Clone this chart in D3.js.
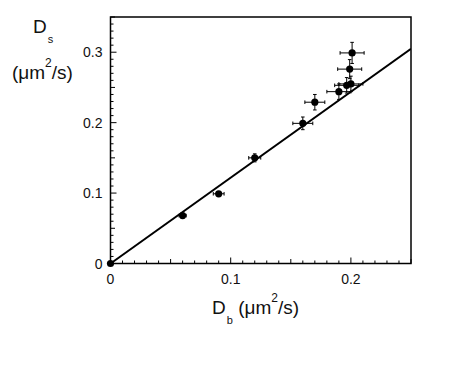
<!DOCTYPE html>
<html lang="en">
<head>
  <meta charset="UTF-8">
  <title>Ds vs Db</title>
  <script src="https://d3js.org/d3.v7.min.js"></script>
  <style>
    body { margin: 0; background: #fff; }
    svg text { font-family: "Liberation Sans", Arial, sans-serif; fill: #111; }
  </style>
</head>
<body>
  <svg id="chart"></svg>
  <script>
    // values
    const dbValues = [0, 0.060, 0.090, 0.120, 0.160, 0.170, 0.190, 0.1965, 0.200, 0.199, 0.201];
    const dsValues = [0, 0.068, 0.099, 0.150, 0.199, 0.229, 0.244, 0.253, 0.255, 0.276, 0.299];
    const dbErr = [0, 0.003, 0.0045, 0.005, 0.0083, 0.0083, 0.010, 0.010, 0.010, 0.010, 0.010];
    const dsErr = [0, 0.003, 0.003, 0.0057, 0.009, 0.011, 0.011, 0.011, 0.011, 0.0135, 0.015];
    const fitSlope = 1.22;
    const xTickLabels = ["0", "0.1", "0.2"];
    const yTickLabels = ["0", "0.1", "0.2", "0.3"];

    const width = 450, height = 377;
    const margin = { top: 17, right: 39, bottom: 113.5, left: 110.5 };

    const svg = d3.select("#chart")
      .attr("width", width)
      .attr("height", height);

    const x = d3.scaleLinear()
      .domain([0, 0.25])
      .range([margin.left, width - margin.right]);

    const y = d3.scaleLinear()
      .domain([0, 0.35])
      .range([height - margin.bottom, margin.top]);

    const data = dbValues.map((d, i) => ({ x: d, y: dsValues[i], ex: dbErr[i], ey: dsErr[i] }));

    // ticks: minor every 0.01, medium at 0.05, major at 0.1
    const x0 = x.range()[0], x1 = x.range()[1];
    const y0 = y.range()[0], y1 = y.range()[1];
    const tickLen = v => {
      const k = Math.round(v * 100);
      return k % 10 === 0 ? 6 : (k % 5 === 0 ? 4.5 : 3);
    };

    const ticks = svg.append("g").attr("stroke", "#000").attr("stroke-width", 1);
    d3.range(0, 26).map(k => k / 100).forEach(v => {
      ticks.append("line")
        .attr("x1", x(v)).attr("x2", x(v))
        .attr("y1", y0).attr("y2", y0 - tickLen(v));
    });
    d3.range(0, 36).map(k => k / 100).forEach(v => {
      ticks.append("line")
        .attr("x1", x0).attr("x2", x0 + tickLen(v))
        .attr("y1", y(v)).attr("y2", y(v));
    });

    // frame
    svg.append("rect")
      .attr("x", x0).attr("y", y1)
      .attr("width", x1 - x0).attr("height", y0 - y1)
      .attr("fill", "none").attr("stroke", "#000").attr("stroke-width", 1.5);

    // tick labels
    svg.selectAll(".xlab")
      .data(xTickLabels)
      .enter().append("text")
      .attr("x", d => x(+d))
      .attr("y", y0 + 20)
      .attr("text-anchor", "middle")
      .attr("font-size", 14)
      .text(d => d);

    svg.selectAll(".ylab")
      .data(yTickLabels)
      .enter().append("text")
      .attr("x", x0 - 8)
      .attr("y", d => y(+d) + 5)
      .attr("text-anchor", "end")
      .attr("font-size", 14)
      .text(d => d);

    // fit line
    svg.append("clipPath").attr("id", "clip")
      .append("rect")
      .attr("x", x0).attr("y", y1)
      .attr("width", x1 - x0).attr("height", y0 - y1);

    svg.append("line")
      .attr("clip-path", "url(#clip)")
      .attr("x1", x(0)).attr("y1", y(0))
      .attr("x2", x(0.25)).attr("y2", y(0.25 * fitSlope))
      .attr("stroke", "#000").attr("stroke-width", 2);

    // error bars
    const cap = 1.8;
    const err = svg.append("g").attr("stroke", "#000").attr("stroke-width", 1);
    data.filter(d => d.ex > 0).forEach(d => {
      err.append("line")
        .attr("x1", x(d.x - d.ex)).attr("x2", x(d.x + d.ex))
        .attr("y1", y(d.y)).attr("y2", y(d.y));
      err.append("line")
        .attr("x1", x(d.x)).attr("x2", x(d.x))
        .attr("y1", y(d.y - d.ey)).attr("y2", y(d.y + d.ey));
      [d.x - d.ex, d.x + d.ex].forEach(v => {
        err.append("line")
          .attr("x1", x(v)).attr("x2", x(v))
          .attr("y1", y(d.y) - cap).attr("y2", y(d.y) + cap);
      });
      [d.y - d.ey, d.y + d.ey].forEach(v => {
        err.append("line")
          .attr("x1", x(d.x) - cap).attr("x2", x(d.x) + cap)
          .attr("y1", y(v)).attr("y2", y(v));
      });
    });

    // points
    svg.selectAll("circle")
      .data(data)
      .enter()
      .append("circle")
      .attr("cx", d => x(d.x))
      .attr("cy", d => y(d.y))
      .attr("r", 3.6)
      .attr("fill", "#000");

    // axis titles
    const yTitle = svg.append("text").attr("font-size", 19);
    yTitle.append("tspan").attr("x", 33).attr("y", 33).text("D");
    yTitle.append("tspan").attr("font-size", 11).attr("dx", 1).attr("dy", 10).text("s");

    const yUnits = svg.append("text").attr("x", 12).attr("y", 79).attr("font-size", 19);
    yUnits.append("tspan").text("(\u03bcm");
    yUnits.append("tspan").attr("font-size", 12).attr("dy", -12).text("2");
    yUnits.append("tspan").attr("dy", 12).text("/s)");

    const xTitle = svg.append("text").attr("x", 212).attr("y", 313.5).attr("font-size", 19);
    xTitle.append("tspan").text("D");
    xTitle.append("tspan").attr("font-size", 11).attr("dx", 1).attr("dy", 10).text("b");
    xTitle.append("tspan").attr("dy", -10).text(" (\u03bcm");
    xTitle.append("tspan").attr("font-size", 12).attr("dy", -12).text("2");
    xTitle.append("tspan").attr("dy", 12).text("/s)");
  </script>
</body>
</html>
